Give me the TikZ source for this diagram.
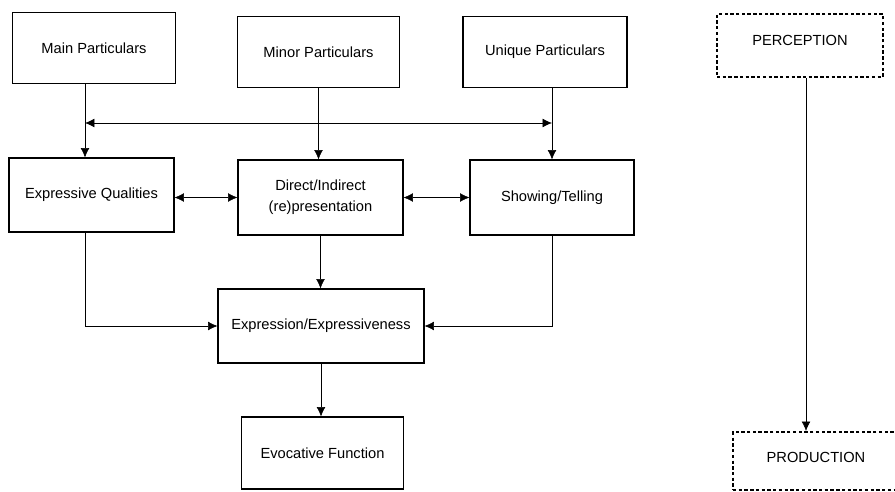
\documentclass[tikz,border=0pt]{standalone}
\usepackage{fontspec}
\setmainfont{Liberation Sans}
\usetikzlibrary{positioning,arrows.meta}

\begin{document}
\begin{tikzpicture}[x=0.75pt, y=-0.75pt, >={Latex[length=7pt,width=6.5pt]},
	every node/.style={font=\fontsize{11}{16}\selectfont, align=center},
	box/.style={draw, line width=0.8pt, minimum width=122pt, minimum height=53pt, inner sep=0pt},
	dashbox/.style={draw, line width=1.6pt, dash pattern=on 2.5pt off 1.8pt,
		minimum width=124.5pt, inner sep=0pt}]
		\useasboundingbox (0,0) rectangle (895,492);

		% top row
		\node [box] (main) at (94,48) {Main Particulars};
		\node [box] (minor) at (318.5,52) {Minor Particulars};
		\node [box, minimum width=123pt] (unique) at (545,52) {Unique Particulars};

		% middle row
		\node [box, minimum width=123.75pt, minimum height=55.5pt] (qualities) at (91.5,195) {Expressive Qualities};
		\node [box, minimum width=123.75pt, minimum height=56.25pt] (direct) at (320.5,197.5) {Direct/Indirect\\(re)presentation};
		\node [box, minimum width=123pt, minimum height=56.25pt] (showing) at (552,197.5) {Showing/Telling};

		% bottom
		\node [box, minimum width=154.5pt, minimum height=55.5pt] (expression) at (321,326) {Expression/Expressiveness};
		\node [box, minimum height=54pt] (evocative) at (322.5,453) {Evocative Function};

		% right column
		\node [dashbox, minimum height=47.25pt] (perception) at (800,45.5) {\raisebox{8pt}{PERCEPTION}};
		\node [dashbox, minimum height=43.5pt] (production) at (816,461) {\raisebox{6pt}{PRODUCTION}};

		\coordinate (jl) at (85,123);
		\coordinate (jr) at (552,123);

		\draw [->] (main.south -| jl) -- (qualities.north -| jl);
		\draw [->] (unique.south -| jr) -- (showing.north -| jr);
		\draw [->] (minor.south) -- (minor.south |- direct.north);
		\draw [<->] (jl) -- (jr);

		\draw [<->] (qualities.east |- direct.west) -- (direct.west);
		\draw [<->] (direct.east) -- (showing.west);

		\draw [->] (direct.south) -- (direct.south |- expression.north);
		\draw [->] (qualities.south -| jl) |- (expression.west);
		\draw [->] (showing.south -| jr) |- (expression.east);
		\draw [->] (expression.south) -- (expression.south |- evocative.north);

		\draw [->] (perception.south -| 806,0) -- (production.north -| 806,0);

	\end{tikzpicture}
\end{document}
